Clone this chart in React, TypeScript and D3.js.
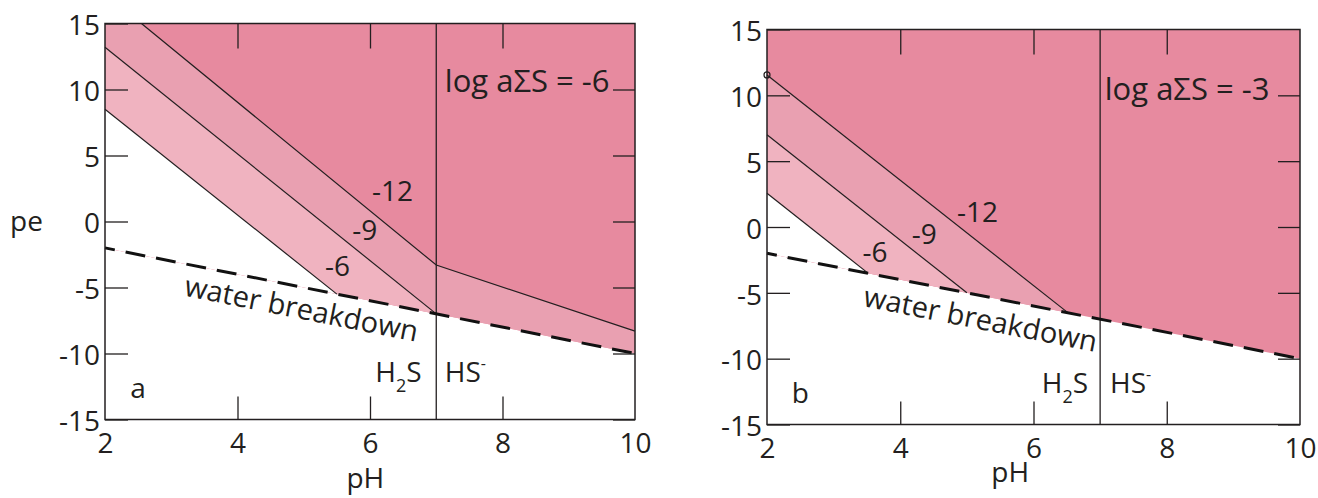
import React, { useRef, useEffect } from 'react';
import * as d3 from 'd3';

// axis ticks
const phTicks = [2, 4, 6, 8, 10];
const peTicks = [15, 10, 5, 0, -5, -10, -15];
const phInner = [4, 6, 8];
const peInner = [10, 5, 0, -5, -10, -15];

// water breakdown: pe = -pH
const waterLine = [[2, -2], [10, -10]];
const h2sHsBoundary = [[7, -15], [7, 15]];

// panel a, log aΣS = -6 : boundaries (pH, pe)
const line6A = [[2, 8.5], [5.5, -5.5]];
const line9A = [[2, 13.2], [7, -7]];
const line12A = [[2.55, 15], [7, -3.3], [10, -8.3]];

// panel b, log aΣS = -3
const line6B = [[2, 2.56], [3.52, -3.52]];
const line9B = [[2, 7], [5, -5]];
const line12B = [[2, 11.55], [6.52, -6.52]];

const lineLabels = ['-6', '-9', '-12'];

const colors = { dark: '#e78a9f', mid: '#e9a0b1', light: '#f0b3c0', ink: '#231f20' };
const font = '"Open Sans", sans-serif';

const panels = [
  {
    letter: 'a', activity: '-6',
    left: 105, right: 635, top: 23.5, bottom: 419.5,
    lines: [line6A, line9A, line12A],
    labelPos: [[5.51, -4.13], [5.92, -1.4], [6.34, 1.58]],
    titlePos: [7.13, 9.79], waterPos: [3.18, -5.6],
    h2sPos: [6.78, -12.14], hsPos: [7.13, -12.14], letterPos: [2.38, -13.37],
    phAt: 5.93, phDy: 68, marker: false
  },
  {
    letter: 'b', activity: '-3',
    left: 767, right: 1300, top: 29.5, bottom: 424.5,
    lines: [line6B, line9B, line12B],
    labelPos: [[3.62, -2.63], [4.36, -1.29], [5.16, 0.4]],
    titlePos: [7.07, 9.64], waterPos: [3.43, -6],
    h2sPos: [6.82, -12.63], hsPos: [7.15, -12.63], letterPos: [2.37, -13.37],
    phAt: 5.65, phDy: 57, marker: true
  }
];

// polygon under a boundary, down to the water line
const below = (line) => {
  const pts = [];
  if (line[0][0] > 2) pts.push([2, 15]);
  pts.push(...line);
  const last = line[line.length - 1];
  if (last[0] >= 10 && last[1] > waterLine[1][1]) pts.push(waterLine[1]);
  pts.push(waterLine[0]);
  return pts;
};

const drawPanel = (svg, p) => {
  const x = d3.scaleLinear().domain([2, 10]).range([p.left, p.right]);
  const y = d3.scaleLinear().domain([-15, 15]).range([p.bottom, p.top]);
  const line = d3.line().x(d => x(d[0])).y(d => y(d[1]));
  const g = svg.append('g');

  const area = (pts, fill) => g.append('path').attr('d', line(pts) + 'Z').attr('fill', fill);
  area([[2, 15], [10, 15], waterLine[1], waterLine[0]], colors.dark);
  area(below(p.lines[2]), colors.mid);
  area(below(p.lines[1]), colors.light);
  area(below(p.lines[0]), '#fff');

  p.lines.forEach(l => {
    g.append('path').attr('d', line(l)).attr('fill', 'none')
      .attr('stroke', colors.ink).attr('stroke-width', 1.2);
  });
  g.append('path').attr('d', line(h2sHsBoundary)).attr('stroke', colors.ink).attr('stroke-width', 1.3);

  g.append('path').attr('d', line(waterLine)).attr('fill', 'none')
    .attr('stroke', '#111').attr('stroke-width', 3)
    .attr('stroke-dasharray', '20 11').attr('stroke-dashoffset', 10);

  if (p.marker) {
    const m = p.lines[2][0];
    g.append('circle').attr('cx', x(m[0])).attr('cy', y(m[1])).attr('r', 3)
      .attr('fill', 'none').attr('stroke', colors.ink).attr('stroke-width', 1.2);
  }

  // frame
  g.append('rect').attr('x', x(2)).attr('y', y(15))
    .attr('width', x(10) - x(2)).attr('height', y(-15) - y(15))
    .attr('fill', 'none').attr('stroke', colors.ink).attr('stroke-width', 1.5);

  const styleAxis = (ax) => {
    ax.select('.domain').remove();
    ax.selectAll('.tick line').attr('stroke', colors.ink).attr('stroke-width', 1.3);
    ax.selectAll('.tick text').attr('fill', colors.ink)
      .style('font-family', font).style('font-size', '28px');
  };

  const plain = d => String(d);

  const left = g.append('g').attr('transform', `translate(${x(2)},0)`)
    .call(d3.axisLeft(y).tickValues(peTicks).tickFormat(plain).tickSize(-23).tickPadding(5).tickSizeOuter(0));
  styleAxis(left);
  left.selectAll('.tick text').attr('dy', '0.4em');

  const bottom = g.append('g').attr('transform', `translate(0,${y(-15)})`)
    .call(d3.axisBottom(x).tickValues(phTicks).tickFormat(plain).tickSize(-23).tickPadding(13.5).tickSizeOuter(0));
  styleAxis(bottom);
  bottom.selectAll('.tick line').filter(d => !phInner.includes(d)).remove();

  const top = g.append('g').attr('transform', `translate(0,${y(15)})`)
    .call(d3.axisTop(x).tickValues(phInner).tickSize(-25).tickFormat(() => '').tickSizeOuter(0));
  styleAxis(top);

  const right = g.append('g').attr('transform', `translate(${x(10)},0)`)
    .call(d3.axisRight(y).tickValues(peInner).tickSize(-22).tickFormat(() => '').tickSizeOuter(0));
  styleAxis(right);

  const text = (pos, str, size, anchor = 'middle') =>
    g.append('text').attr('x', x(pos[0])).attr('y', y(pos[1]))
      .attr('text-anchor', anchor).attr('fill', colors.ink)
      .style('font-family', font).style('font-size', `${size}px`).text(str);

  p.labelPos.forEach((pos, i) => text(pos, lineLabels[i], 28));
  text(p.titlePos, `log aΣS = ${p.activity}`, 31, 'start');
  text(p.letterPos, p.letter, 28, 'start');

  const angle = Math.atan2(y(waterLine[1][1]) - y(waterLine[0][1]), x(waterLine[1][0]) - x(waterLine[0][0])) * 180 / Math.PI;
  text(p.waterPos, 'water breakdown', 29, 'start')
    .attr('transform', `rotate(${angle},${x(p.waterPos[0])},${y(p.waterPos[1])})`);

  const h2s = text(p.h2sPos, 'H', 28, 'end');
  h2s.append('tspan').attr('dy', 10).style('font-size', '18px').text('2');
  h2s.append('tspan').attr('dy', -10).text('S');

  const hs = text(p.hsPos, 'HS', 28, 'start');
  hs.append('tspan').attr('dy', -13).style('font-size', '16px').text('-');

  g.append('text').attr('x', x(p.phAt)).attr('y', y(-15) + p.phDy)
    .attr('text-anchor', 'middle').attr('fill', colors.ink)
    .style('font-family', font).style('font-size', '28px').text('pH');
};

const App = () => {
  const ref = useRef(null);

  useEffect(() => {
    const svg = d3.select(ref.current);
    svg.selectAll('*').remove();
    panels.forEach(p => drawPanel(svg, p));
    svg.append('text').attr('x', 10).attr('y', 231).attr('fill', colors.ink)
      .style('font-family', font).style('font-size', '28px').text('pe');
  }, []);

  return (
    <svg ref={ref} width={1318} height={498}
      style={{ position: 'absolute', left: 0, top: 0, background: '#fff' }} />
  );
};

export default App;
